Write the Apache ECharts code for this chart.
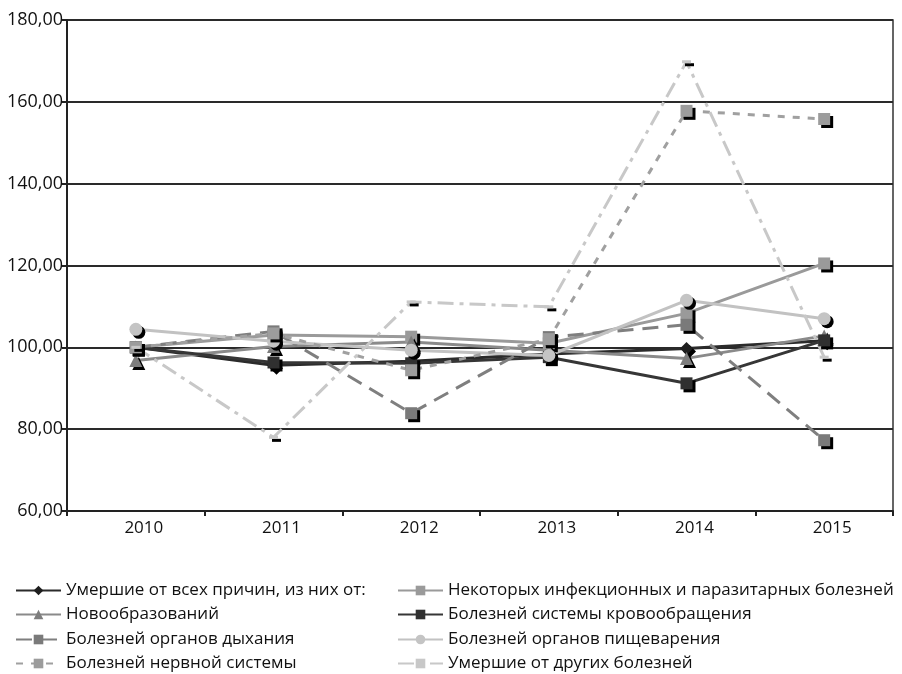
<!DOCTYPE html>
<html>
<head>
<meta charset="utf-8">
<script src="https://cdn.jsdelivr.net/npm/echarts@6/dist/echarts.min.js"></script>
<style>html,body{margin:0;padding:0;background:#fff;}#c{width:902px;height:674px;}</style>
</head>
<body>
<div id="c"></div>
<script>
var years = ['2010', '2011', '2012', '2013', '2014', '2015'];
var yTicks = [60, 80, 100, 120, 140, 160, 180];

var allCauses   = [100.0, 95.6, 96.6, 98.4, 99.7, 101.6];
var infectious  = [100.0, 103.0, 102.6, 101.0, 108.3, 120.5];
var neoplasms   = [96.8, 100.2, 101.3, 99.3, 97.3, 102.8];
var circulatory = [100.0, 96.3, 96.1, 97.6, 91.2, 101.7];
var respiratory = [100.0, 103.9, 83.9, 102.5, 105.5, 77.3];
var digestive   = [104.4, 101.5, 99.3, 98.0, 111.5, 107.0];
var nervous     = [100.0, 103.4, 94.4, 102.0, 157.8, 155.8];
var other       = [100.0, 78.0, 111.1, 109.9, 169.8, 97.6];

var names = [
  'Умершие от всех причин, из них от:',
  'Некоторых инфекционных и паразитарных болезней',
  'Новообразований',
  'Болезней системы кровообращения',
  'Болезней органов дыхания',
  'Болезней органов пищеварения',
  'Болезней нервной системы',
  'Умершие от других болезней'
];

var chart = echarts.init(document.getElementById('c'), null, {renderer: 'canvas'});

function mkSeries(name, data, color, symbol, size, lineType, markerColor) {
  return {
    name: name,
    type: 'line',
    data: data,
    symbol: symbol,
    symbolSize: size,
    showSymbol: true,
    animation: false,
    lineStyle: {color: color, width: 3, type: lineType},
    itemStyle: {
      color: markerColor || color,
      borderWidth: 0,
      shadowColor: '#000',
      shadowBlur: 0,
      shadowOffsetX: 3,
      shadowOffsetY: 3
    },
    emphasis: {disabled: true}
  };
}

var series = [
  mkSeries(names[0], allCauses, '#2b2b2b', 'diamond', 13, 'solid', '#1e1e1e'),
  mkSeries(names[1], infectious, '#9a9a9a', 'rect', 12, 'solid'),
  mkSeries(names[2], neoplasms, '#8a8a8a', 'triangle', 13, 'solid', '#7d7d7d'),
  mkSeries(names[3], circulatory, '#363636', 'rect', 12, 'solid', '#303030'),
  mkSeries(names[4], respiratory, '#7f7f7f', 'rect', 12, [16, 9], '#7a7a7a'),
  mkSeries(names[5], digestive, '#c2c2c2', 'circle', 13, 'solid', '#c4c4c4'),
  mkSeries(names[6], nervous, '#a0a0a0', 'rect', 12, [7, 8], '#9c9c9c'),
  mkSeries(names[7], other, '#c8c8c8', 'rect', [9, 3], [16, 6, 4, 6], '#c8c8c8')
];

var rowsY = [589, 613, 638, 662];
var legends = [];
var order = [[0, 0, 0], [1, 1, 0], [2, 0, 1], [3, 1, 1], [4, 0, 2], [5, 1, 2], [6, 0, 3], [7, 1, 3]];
order.forEach(function (o) {
  legends.push({
    data: [names[o[0]]],
    left: o[1] === 0 ? 15 : 397,
    top: rowsY[o[2]] - 7,
    padding: 0,
    itemWidth: 45,
    itemHeight: 12,
    itemGap: 0,
    selectedMode: false,
    textStyle: {fontFamily: 'Open Sans', fontSize: 17, color: '#111'},
    itemStyle: {shadowColor: 'rgba(0,0,0,0)', shadowOffsetX: 0, shadowOffsetY: 0}
  });
});

var option = {
  backgroundColor: '#fff',
  animation: false,
  legend: legends,
  grid: {
    left: 67, right: 9, top: 20, bottom: 163,
    show: true, borderColor: '#333', borderWidth: 1.5, containLabel: false
  },
  xAxis: {
    type: 'category',
    data: years,
    boundaryGap: true,
    axisLine: {show: true, lineStyle: {color: '#222', width: 2}},
    axisTick: {show: true, length: 5, lineStyle: {color: '#222', width: 2}},
    axisLabel: {fontFamily: 'Open Sans', fontSize: 17, color: '#111', margin: 9, padding: [0, 0, 0, 16]},
    splitLine: {show: false}
  },
  yAxis: {
    type: 'value',
    min: yTicks[0],
    max: yTicks[yTicks.length - 1],
    interval: 20,
    axisLine: {show: true, lineStyle: {color: '#222', width: 2}},
    axisTick: {show: true, length: 5, lineStyle: {color: '#222', width: 2}},
    axisLabel: {
      fontFamily: 'Open Sans', fontSize: 18, color: '#111', margin: 4,
      formatter: function (v) { return v.toFixed(2).replace('.', ','); }
    },
    splitLine: {show: true, lineStyle: {color: '#2a2a2a', width: 2}}
  },
  series: series
};
chart.setOption(option);
</script>
</body>
</html>
